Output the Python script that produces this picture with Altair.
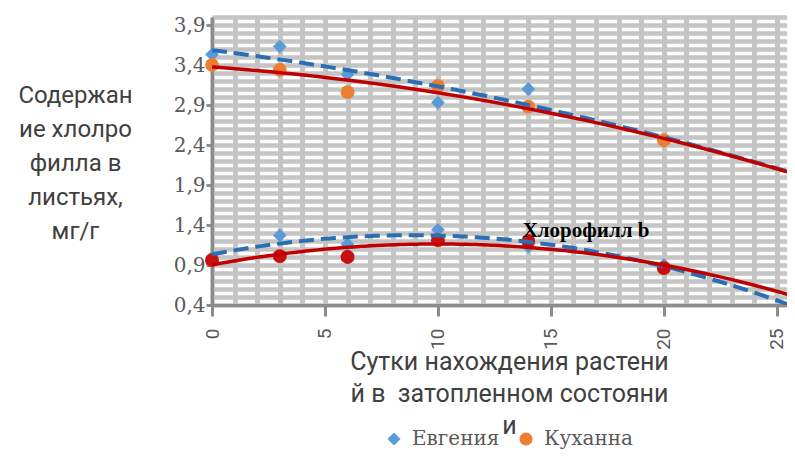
import altair as alt
import pandas as pd

# ---- data ----
days = [0, 3, 6, 10, 14, 20]
evg_a = [3.53, 3.63, 3.28, 2.93, 3.10, 2.45]   # Евгения, хлорофилл a
kuh_a = [3.40, 3.34, 3.06, 3.14, 2.88, 2.46]   # Куханна, хлорофилл a
evg_b = [0.99, 1.27, 1.16, 1.34, 1.13, 0.90]   # Евгения, хлорофилл b
kuh_b = [0.96, 1.01, 1.00, 1.21, 1.20, 0.86]   # Куханна, хлорофилл b
series_names = ["Евгения", "Куханна"]
y_title = ["Содержан", "ие хлолро", "филла  в", "листьях,", "мг/г"]
x_title = ["Сутки нахождения растени", "й в\u00a0 затопленном состояни", "и"]
annot_text = ["Хлорофилл b"]
annot_x = [13.75]
annot_y = [1.25]

rows = []
for name, a_vals, b_vals in [(series_names[0], evg_a, evg_b), (series_names[1], kuh_a, kuh_b)]:
    for d, v in zip(days, a_vals):
        rows.append({"day": d, "value": v, "series": name, "pigment": "a"})
    for d, v in zip(days, b_vals):
        rows.append({"day": d, "value": v, "series": name, "pigment": "b"})
df = pd.DataFrame(rows)
annot = pd.DataFrame({"day": annot_x, "value": annot_y, "text": annot_text})

X_MAX = 25.45
x_grid = list(range(0, 26))
y_grid = [round(0.4 + 0.1 * i, 1) for i in range(37)]

y_label_test = "abs((datum.value - 0.4) / 0.5 - round((datum.value - 0.4) / 0.5)) < 0.001"

x_enc = alt.X(
    "day:Q",
    scale=alt.Scale(domain=[0, X_MAX], nice=False, zero=False),
    axis=alt.Axis(
        values=x_grid,
        tickCount=200,
        labelExpr="datum.value % 5 === 0 ? format(datum.value, 'd') : ''",
        labelOverlap=False,
        labelAngle=-90,
        labelFont="Roboto",
        labelFontSize=19,
        labelColor="#595959",
        labelPadding=12,
        tickSize=11,
        tickWidth=3,
        tickColor="#8c8c8c",
        tickOpacity={"condition": {"test": "datum.value % 5 === 0", "value": 1}, "value": 0},
        domainColor="#8c8c8c",
        domainWidth=3,
        grid=True,
        gridColor="#c4c4c4",
        gridWidth=5,
        title=x_title,
        titleFont="Roboto",
        titleFontSize=25,
        titleFontWeight="normal",
        titleColor="#404040",
        titleLineHeight=32,
        titleAlign="center",
        titleAnchor="start",
        titleBaseline="alphabetic",
        titleX=297,
        titleY=64,
    ),
)
y_enc = alt.Y(
    "value:Q",
    scale=alt.Scale(domain=[0.4, 4.0], nice=False, zero=False),
    axis=alt.Axis(
        values=y_grid,
        tickCount=200,
        labelExpr=y_label_test + " ? replace(format(datum.value, '.1f'), '.', ',') : ''",
        labelOverlap=False,
        labelFont="DejaVu Serif",
        labelFontSize=20,
        labelColor="#595959",
        labelPadding=1,
        tickSize=6,
        tickWidth=3,
        tickColor="#8c8c8c",
        tickOpacity={"condition": {"test": y_label_test, "value": 1}, "value": 0},
        domainColor="#8c8c8c",
        domainWidth=3,
        grid=True,
        gridColor="#c4c4c4",
        gridWidth=4.5,
        title=y_title,
        titleFont="Roboto",
        titleFontSize=24,
        titleFontWeight="normal",
        titleColor="#404040",
        titleAngle=0,
        titleLineHeight=34,
        titleAlign="center",
        titleAnchor="start",
        titleBaseline="alphabetic",
        titleX=-137,
        titleY=85,
    ),
)

base = alt.Chart(df)

legend_kw = dict(
    title=None, orient="none", direction="horizontal", legendX=172, legendY=412,
    labelFont="DejaVu Serif", labelFontSize=20, labelColor="#595959", labelLimit=300,
    symbolSize=170, symbolStrokeWidth=0, columnPadding=16, labelOffset=8, padding=0,
)

points = base.mark_point(filled=True, opacity=1).encode(
    x=x_enc,
    y=y_enc,
    color=alt.Color(
        "series:N",
        scale=alt.Scale(domain=series_names, range=["#5b9bd5", "#ed7d31"]),
        legend=alt.Legend(**legend_kw),
    ),
    shape=alt.Shape(
        "series:N",
        scale=alt.Scale(domain=series_names, range=["diamond", "circle"]),
        legend=alt.Legend(**legend_kw),
    ),
    size=alt.value(190),
)

red_b = base.transform_filter(
    (alt.datum.series == series_names[1]) & (alt.datum.pigment == "b")
).mark_circle(color="#c81010", opacity=1, size=190).encode(x="day:Q", y="value:Q")

evg_trend = base.transform_filter(alt.datum.series == series_names[0]).transform_regression(
    "day", "value", groupby=["pigment"], method="poly", order=2, extent=[0, 26]
).mark_line(color="#2a6fb5", strokeWidth=4, strokeDash=[15, 7], clip=True).encode(
    x="day:Q", y="value:Q", detail="pigment:N"
)

kuh_trend = base.transform_filter(alt.datum.series == series_names[1]).transform_regression(
    "day", "value", groupby=["pigment"], method="poly", order=2, extent=[0, 26]
).mark_line(color="#c00000", strokeWidth=3.5, clip=True).encode(
    x="day:Q", y="value:Q", detail="pigment:N"
)

label = alt.Chart(annot).mark_text(
    font="Liberation Serif", fontSize=21, fontWeight="bold", color="#000000",
    align="left", baseline="alphabetic"
).encode(x="day:Q", y="value:Q", text="text:N")

chart = alt.layer(points, red_b, evg_trend, kuh_trend, label).properties(
    width=575,
    height=288,
    autosize="none",
    padding={"left": 204, "top": 9, "right": 0, "bottom": 144},
    background="#ffffff",
).configure_view(stroke="transparent")

chart.save("out.html", embed_options={"renderer": "svg", "actions": False})
